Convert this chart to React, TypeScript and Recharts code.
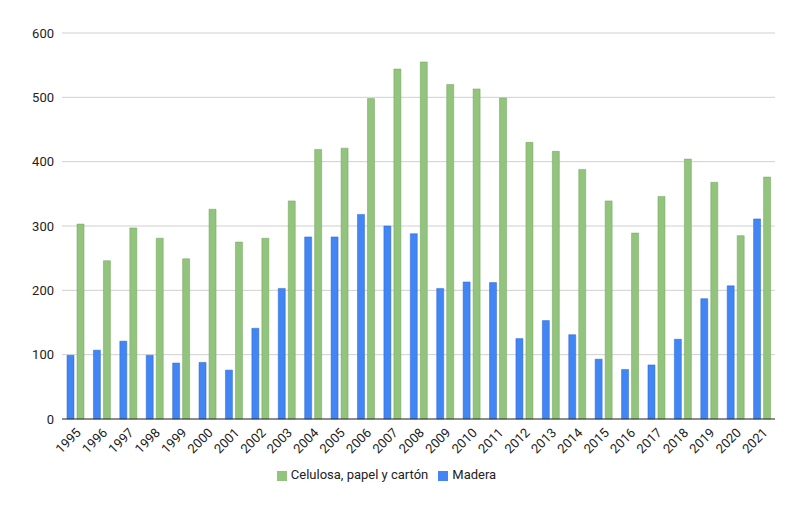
import { Bar, BarChart, CartesianGrid, Legend, XAxis, YAxis } from "recharts";

const years = [
  "1995", "1996", "1997", "1998", "1999", "2000", "2001", "2002", "2003", "2004",
  "2005", "2006", "2007", "2008", "2009", "2010", "2011", "2012", "2013", "2014",
  "2015", "2016", "2017", "2018", "2019", "2020", "2021",
];
const madera = [
  99, 107, 121, 99, 87, 88, 76, 141, 203, 283, 283, 318, 300, 288, 203, 213, 212,
  125, 153, 131, 93, 77, 84, 124, 187, 207, 311,
];
const celulosa = [
  303, 246, 297, 281, 249, 326, 275, 281, 339, 419, 421, 498, 544, 555, 520, 513,
  499, 430, 416, 388, 339, 289, 346, 404, 368, 285, 376,
];
const yTicks = [0, 100, 200, 300, 400, 500, 600];

const data = years.map((year, i) => ({ year, madera: madera[i], celulosa: celulosa[i] }));

export default function App() {
  return (
    <BarChart
      width={784}
      height={497}
      data={data}
      margin={{ top: 25, right: 17, left: 0, bottom: 10 }}
      barSize={7}
      barGap={3}
      style={{ fontFamily: "Roboto, Arial, sans-serif" }}
    >
      <CartesianGrid vertical={false} stroke="#d0d0d0" />
      <XAxis
        dataKey="year"
        interval={0}
        angle={-45}
        textAnchor="end"
        height={48}
        tickLine={false}
        axisLine={{ stroke: "#333" }}
        tick={{ fontSize: 13, fill: "#222" }}
      />
      <YAxis
        width={54}
        domain={[0, 600]}
        ticks={yTicks}
        axisLine={false}
        tickLine={false}
        tick={{ fontSize: 13, fill: "#222" }}
      />
      <Legend
        verticalAlign="bottom"
        height={28}
        iconType="square"
        iconSize={10}
        wrapperStyle={{ fontSize: 13, color: "#222" }}
        formatter={(v) => <span style={{ color: "#222" }}>{v}</span>}
      />
      <Bar dataKey="madera" name="Madera" fill="#4285f4" stroke="#2a66c9" strokeWidth={0.5} isAnimationActive={false} />
      <Bar dataKey="celulosa" name="Celulosa, papel y cartón" fill="#93c47d" stroke="#6fa35a" strokeWidth={0.5} isAnimationActive={false} />
    </BarChart>
  );
}
